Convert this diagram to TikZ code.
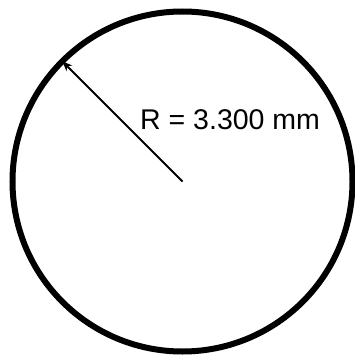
\documentclass[tikz,border=0pt]{standalone}
\usepackage{fontspec}
\setmainfont{Liberation Sans}
\usetikzlibrary{arrows.meta,positioning}

\begin{document}
\begin{tikzpicture}[x=1pt, y=-1pt, >={Stealth[length=10pt, width=8pt]},
  ring/.style={circle, draw=black, line width=6pt, inner sep=0pt, outer sep=0pt,
               minimum size=340pt},
  dim/.style={font=\fontsize{28.5}{30}\selectfont, inner sep=0pt, anchor=base west}]
  \useasboundingbox (0,0) rectangle (355,356);
  \node[ring] (rim) at (182.5,181.5) {};
  \coordinate (ctr) at (rim.center);
  \draw[->, line width=1.8pt] (ctr) -- (rim.135);
  \node[dim] (lbl) at (140,129) {R = 3.300 mm};
\end{tikzpicture}
\end{document}
